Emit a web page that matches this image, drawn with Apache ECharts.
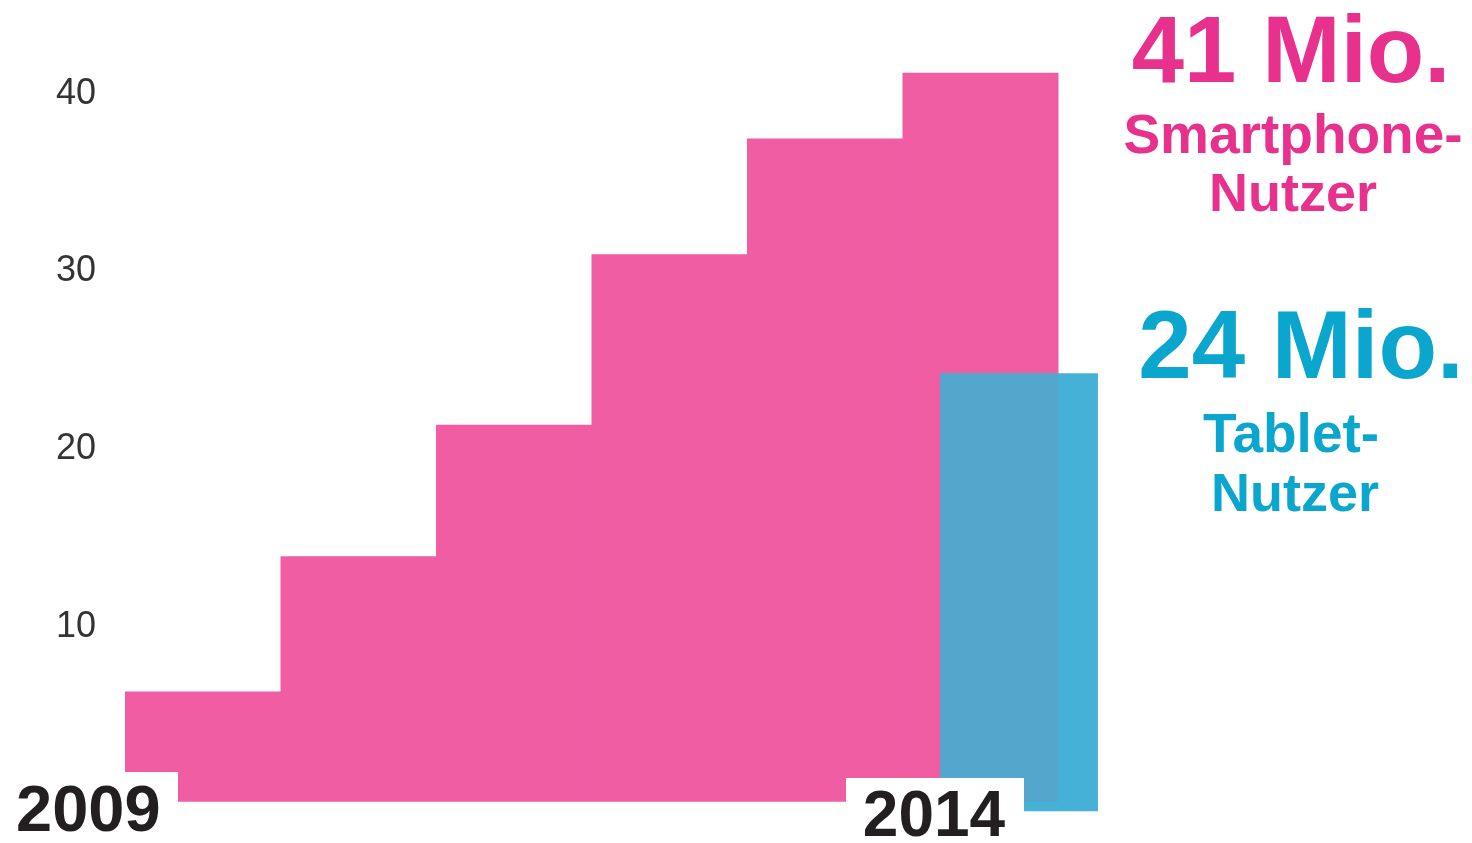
<!DOCTYPE html>
<html>
<head>
<meta charset="utf-8">
<script src="https://cdn.jsdelivr.net/npm/echarts@6/dist/echarts.min.js"></script>
<style>
  html, body { margin: 0; padding: 0; background: #ffffff; }
  #chart { width: 1472px; height: 843px; }
</style>
</head>
<body>
<div id="chart"></div>
<script>
// ---- data ----
const years = ['2009', '2010', '2011', '2012', '2013', '2014'];
const smartphoneUsers = [6.2, 13.8, 21.2, 30.8, 37.3, 41.0]; // Mio.
const tabletUsers2014 = [24.1];                              // Mio., only 2014
const yTickLabels = [10, 20, 30, 40];
const smartphoneTitle = ['41 Mio.', 'Smartphone-', 'Nutzer'];
const tabletTitle = ['24 Mio.', 'Tablet-', 'Nutzer'];

// ---- styles ----
const PINK_BAR = '#F05DA3';
const PINK_TEXT = '#E8318D';
const BLUE_BAR = '#46B1D7';
const BLUE_OVER = '#54A6CC';
const BLUE_TEXT = '#0AA6CD';
const FONT = '"Liberation Sans", Arial, Helvetica, sans-serif';

const chart = echarts.init(document.getElementById('chart'), null, { renderer: 'canvas' });

const smartData = smartphoneUsers.map((v, i) => [i, v]);
const tabletIndex = years.indexOf('2014');
const tabletData = tabletUsers2014.map(v => [tabletIndex, v]);

const option = {
  backgroundColor: '#ffffff',
  animation: false,
  grid: { left: 125, top: 1.7, width: 1244, height: 800 },
  xAxis: { type: 'value', min: 0, max: 8, show: false },
  yAxis: {
    type: 'value', min: 0, max: 45, interval: 10,
    axisLine: { show: false }, axisTick: { show: false }, splitLine: { show: false },
    axisLabel: {
      margin: 29, fontSize: 36, color: '#333333', fontFamily: FONT,
      formatter: v => (yTickLabels.indexOf(v) >= 0 ? '{t|' + v + '}' : ''),
      rich: { t: { fontSize: 36, color: '#333333', fontFamily: FONT, padding: [6, 0, 0, 0] } }
    }
  },
  series: [
    {
      type: 'custom', name: 'Smartphone',
      data: smartData,
      encode: { x: 0, y: 1 },
      renderItem: (params, api) => {
        const i = api.value(0), v = api.value(1);
        const p0 = api.coord([i, v]);
        const p1 = api.coord([i + 1, 0]);
        return {
          type: 'rect',
          shape: { x: p0[0], y: p0[1], width: p1[0] - p0[0] + 0.5, height: p1[1] - p0[1] },
          style: { fill: PINK_BAR }
        };
      },
      z: 2
    },
    {
      type: 'custom', name: 'Tablet',
      data: tabletData,
      encode: { x: 0, y: 1 },
      renderItem: (params, api) => {
        const i = api.value(0), v = api.value(1);
        const top = api.coord([i + 0.241, v]);
        const right = api.coord([i + 1.257, 0]);
        const pinkEnd = api.coord([i + 1, 0]);
        return {
          type: 'group',
          children: [
            { type: 'rect',
              shape: { x: top[0], y: top[1], width: right[0] - top[0], height: right[1] - top[1] + 9.5 },
              style: { fill: BLUE_BAR } },
            { type: 'rect',
              shape: { x: top[0], y: top[1], width: pinkEnd[0] - top[0], height: pinkEnd[1] - top[1] },
              style: { fill: BLUE_OVER } }
          ]
        };
      },
      z: 3
    }
  ],
  graphic: [
    { type: 'rect', z: 100, shape: { x: 0, y: 772, width: 178, height: 71 }, style: { fill: '#ffffff' } },
    { type: 'text', z: 101, x: 16, y: 813,
      style: { text: years[0], font: 'bold 65px ' + FONT, fill: '#231F20', align: 'left', verticalAlign: 'middle' } },
    { type: 'rect', z: 100, shape: { x: 846, y: 778, width: 178, height: 65 }, style: { fill: '#ffffff' } },
    { type: 'text', z: 101, x: 934, y: 818,
      style: { text: years[5], font: 'bold 64px ' + FONT, fill: '#231F20', align: 'center', verticalAlign: 'middle' } },

    { type: 'text', z: 101, x: 1291, y: 56,
      style: { text: smartphoneTitle[0], font: 'bold 94px ' + FONT, fill: PINK_TEXT, align: 'center', verticalAlign: 'middle' } },
    { type: 'text', z: 101, x: 1293, y: 138,
      style: { text: smartphoneTitle[1], font: 'bold 55px ' + FONT, fill: PINK_TEXT, align: 'center', verticalAlign: 'middle' } },
    { type: 'text', z: 101, x: 1293, y: 196,
      style: { text: smartphoneTitle[2], font: 'bold 54px ' + FONT, fill: PINK_TEXT, align: 'center', verticalAlign: 'middle' } },

    { type: 'text', z: 101, x: 1301, y: 352,
      style: { text: tabletTitle[0], font: 'bold 96px ' + FONT, fill: BLUE_TEXT, align: 'center', verticalAlign: 'middle' } },
    { type: 'text', z: 101, x: 1291, y: 437,
      style: { text: tabletTitle[1], font: 'bold 55px ' + FONT, fill: BLUE_TEXT, align: 'center', verticalAlign: 'middle' } },
    { type: 'text', z: 101, x: 1295, y: 496,
      style: { text: tabletTitle[2], font: 'bold 54px ' + FONT, fill: BLUE_TEXT, align: 'center', verticalAlign: 'middle' } }
  ]
};

chart.setOption(option);
</script>
</body>
</html>
